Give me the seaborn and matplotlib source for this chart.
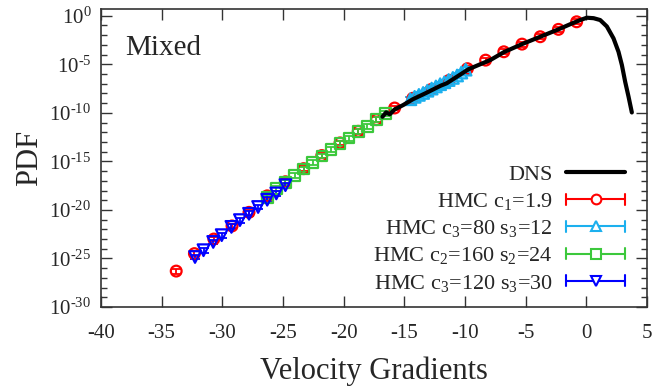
import numpy as np
import pandas as pd
import seaborn as sns
import matplotlib.pyplot as plt
from matplotlib.lines import Line2D
from matplotlib.legend_handler import HandlerBase
from matplotlib.ticker import FixedLocator, FuncFormatter

# DNS curve: velocity gradient vs log10(PDF)
dns_x = [-16.8, -16.5, -16.2, -15.8, -15.1, -14.3, -13.2, -12.0, -11.5, -9.7, -7.9,
         -6.8, -5.3, -3.8, -2.3, -1.2, -0.5, 0.04, 0.6, 1.14, 1.69, 2.24, 2.65,
         2.93, 3.2, 3.48, 3.75]
dns_logp = [-10.4, -9.95, -10.15, -9.65, -9.2, -8.6, -7.95, -7.2, -6.95, -5.5, -4.55,
            -3.75, -2.92, -2.16, -1.4, -0.8, -0.44, -0.2, -0.25, -0.44, -1.1, -2.33, -3.71,
            -5.08, -6.8, -8.35, -9.96]

# HMC c1=1.9
c1_x = [-33.8, -32.3, -30.7, -29.2, -27.8, -26.3, -24.8, -23.3, -21.8, -20.3, -18.8,
        -17.3, -15.8, -14.3, -12.8, -11.3, -9.8, -8.3, -6.8, -5.3, -3.8, -2.3, -0.8]
c1_logp = [-26.3, -24.5, -23.0, -21.65, -20.25, -18.55, -17.1, -15.75, -14.4, -13.1, -11.9,
           -10.7, -9.5, -8.5, -7.6, -6.65, -5.45, -4.57, -3.71, -2.92, -2.16, -1.4, -0.62]

# HMC c3=80 s3=12
c3a_x = [-14.5, -14.15, -13.8, -13.45, -13.1, -12.75, -12.4, -12.05, -11.7, -11.35,
         -11.0, -10.65, -10.3, -9.95]
c3a_logp = [-8.6, -8.35, -8.15, -7.95, -7.72, -7.5, -7.28, -7.05, -6.85, -6.62,
            -6.4, -6.15, -5.85, -5.55]

# HMC c2=160 s2=24
c2_x = [-16.55, -17.3, -18.05, -18.8, -19.55, -20.3, -21.05, -21.8, -22.55, -23.3,
        -24.05, -24.8, -25.55, -26.3]
c2_logp = [-10.05, -10.7, -11.4, -11.95, -12.6, -13.15, -13.8, -14.45, -15.1, -15.8,
           -16.45, -17.15, -17.8, -18.7]

# HMC c3=120 s3=30
c3b_x = [-24.8, -25.55, -26.3, -27.05, -27.8, -28.55, -29.25, -30.05, -30.75, -31.55, -32.25]
c3b_logp = [-17.45, -18.3, -18.95, -19.7, -20.4, -21.05, -21.75, -22.6, -23.3, -24.15, -24.85]

labels = ['DNS', 'HMC c$_1$=1.9', 'HMC c$_3$=80 s$_3$=12',
          'HMC c$_2$=160 s$_2$=24', 'HMC c$_3$=120 s$_3$=30']

err_dex = 0.25  # half-width of error bars in decades

sns.set_theme(style='ticks')
plt.rcParams['font.family'] = ['Liberation Serif', 'DejaVu Serif']
plt.rcParams['mathtext.fontset'] = 'custom'
plt.rcParams['mathtext.rm'] = 'Liberation Serif'
plt.rcParams['mathtext.it'] = 'Liberation Serif:italic'
plt.rcParams['mathtext.default'] = 'regular'
plt.rcParams['axes.unicode_minus'] = False

fig, ax = plt.subplots(figsize=(6.57, 3.89), dpi=100)
fig.subplots_adjust(left=0.1537, right=0.9848, bottom=0.2108, top=0.9769)
ax.set_yscale('log')

series = [
    (c1_x, c1_logp, '#FF0000', 'o', 60),
    (c3a_x, c3a_logp, '#1CB0EE', '^', 70),
    (c2_x, c2_logp, '#3CC83C', 's', 58),
    (c3b_x, c3b_logp, '#0000FF', 'v', 70),
]

for xs, lp, col, mk, size in series:
    df = pd.DataFrame({'x': xs, 'p': 10.0 ** np.array(lp)})
    lo = df['p'] - df['p'] * 10 ** -err_dex
    hi = df['p'] * 10 ** err_dex - df['p']
    ax.errorbar(df['x'], df['p'], yerr=[lo, hi], fmt='none', ecolor=col,
                elinewidth=1.3, capsize=3.5, capthick=1.3)
    sns.scatterplot(data=df, x='x', y='p', marker=mk, s=size, facecolor='none',
                    edgecolor=col, linewidth=1.6, ax=ax, zorder=3)

dns = pd.DataFrame({'x': dns_x, 'p': 10.0 ** np.array(dns_logp)})
sns.lineplot(data=dns, x='x', y='p', color='black', linewidth=3, sort=False,
             ax=ax, zorder=5)

ax.set_xlim(-40, 5)
ax.set_ylim(1e-30, 5)
ax.set_xticks(np.arange(-40, 6, 5))
ax.yaxis.set_major_locator(FixedLocator([10.0 ** e for e in range(-30, 1, 5)]))
ax.yaxis.set_minor_locator(FixedLocator([10.0 ** e for e in range(-30, 1)]))
ax.yaxis.set_minor_formatter(FuncFormatter(lambda v, p: ''))
ax.yaxis.set_major_formatter(FuncFormatter(
    lambda v, p: r'10$^{\text{%d}}$' % int(round(np.log10(v)))))

ax.tick_params(which='both', direction='in', top=True, right=True, width=1.0,
               color='#333333')
ax.tick_params(which='major', length=8, labelsize=15)
ax.tick_params(which='minor', length=4.5)
ax.tick_params(axis='x', pad=12)
ax.tick_params(axis='y', pad=7)
for s in ax.spines.values():
    s.set_linewidth(1.2)
    s.set_color('#333333')

ax.set_xlabel('Velocity Gradients', fontsize=22, labelpad=10)
ax.set_ylabel('PDF', fontsize=22, labelpad=4)
ax.text(0.044, 0.846, 'Mixed', transform=ax.transAxes, fontsize=21, va='baseline')


class ErrHandler(HandlerBase):
    def create_artists(self, legend, orig, xd, yd, w, h, fs, trans):
        c = orig.get_color()
        y = h / 2 - yd
        x0, x1 = -xd, w - xd
        cap = 0.35 * h
        arts = [Line2D([x0, x1], [y, y], color=c, lw=1.5)]
        for xx in (x0, x1):
            arts.append(Line2D([xx, xx], [y - cap, y + cap], color=c, lw=1.5))
        arts.append(Line2D([(x0 + x1) / 2], [y], marker=orig.get_marker(), ms=7,
                           mfc='white', mec=c, mew=1.5, ls='none'))
        for a in arts:
            a.set_transform(trans)
        return arts


handles = [Line2D([], [], color='black', lw=3)]
hmap = {}
for xs, lp, col, mk, size in series:
    h = Line2D([], [], color=col, marker=mk)
    handles.append(h)
    hmap[h] = ErrHandler()

ax.legend(handles, labels, handler_map=hmap, loc='lower right',
          bbox_to_anchor=(0.96, 0.045), borderaxespad=0, borderpad=0,
          frameon=False, markerfirst=False, fontsize=16, handlelength=2.65,
          handletextpad=0.6, labelspacing=0.28)

plt.savefig('out.png', dpi=100)
